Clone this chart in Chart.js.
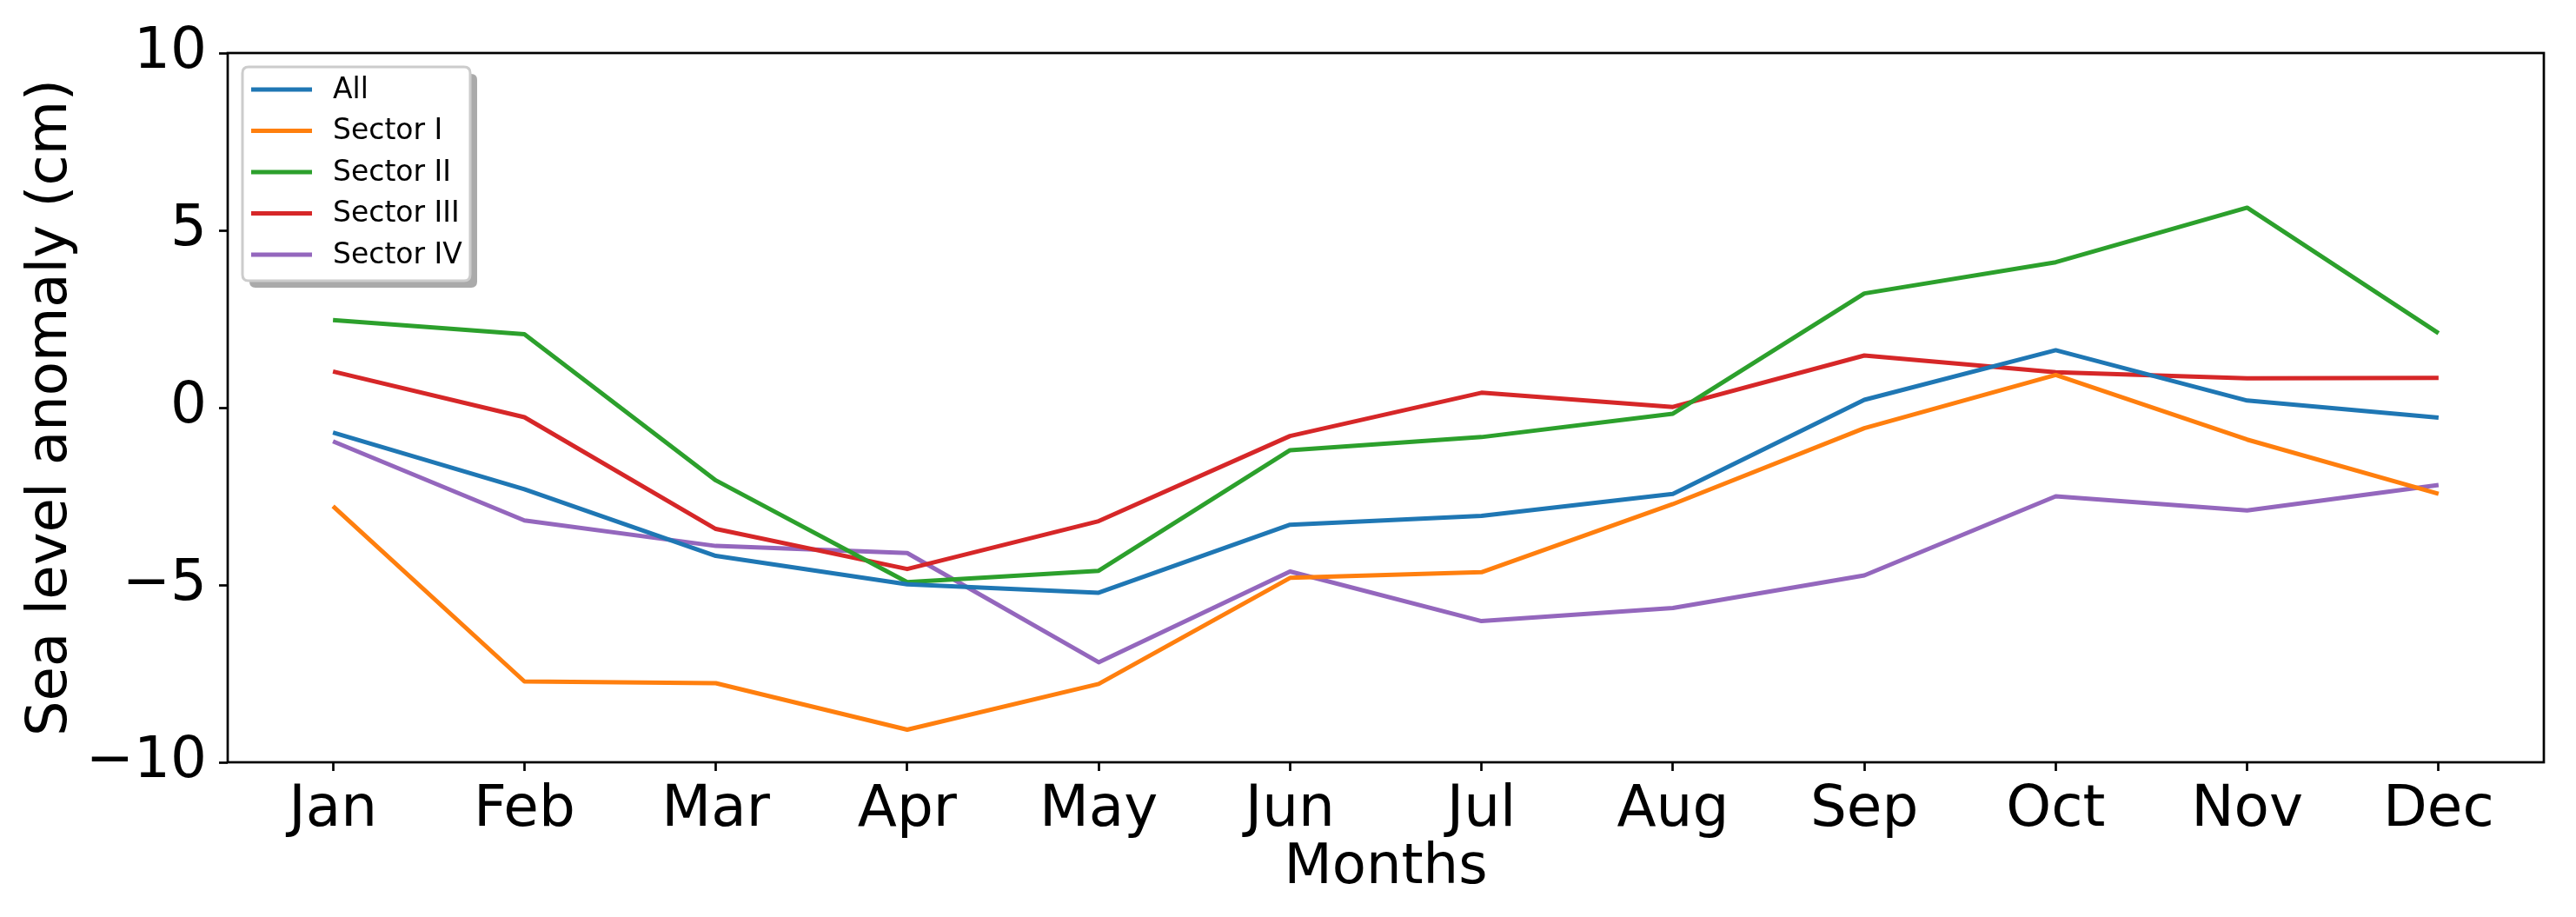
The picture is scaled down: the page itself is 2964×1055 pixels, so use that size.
<!DOCTYPE html>
<html>
<head>
<meta charset="utf-8">
<script src="https://cdn.jsdelivr.net/npm/chart.js@4.4.1/dist/chart.umd.min.js"></script>
<style>
  html, body { margin: 0; padding: 0; background: #ffffff; }
  #wrap { width: 2964px; height: 1055px; }
</style>
</head>
<body>
<div id="wrap"><canvas id="c" width="2964" height="1055"></canvas></div>
<script>
const months = ["Jan","Feb","Mar","Apr","May","Jun","Jul","Aug","Sep","Oct","Nov","Dec"];
const seriesNames = ["All","Sector I","Sector II","Sector III","Sector IV"];
const allValues      = [-0.70, -2.30, -4.18, -4.98, -5.22, -3.30, -3.05, -2.43, 0.22, 1.62, 0.20, -0.28];
const sector1Values  = [-2.78, -7.72, -7.77, -9.08, -7.79, -4.80, -4.64, -2.72, -0.58, 0.92, -0.90, -2.43];
const sector2Values  = [2.47, 2.07, -2.05, -4.92, -4.60, -1.20, -0.83, -0.17, 3.22, 4.10, 5.64, 2.10];
const sector3Values  = [1.02, -0.27, -3.42, -4.55, -3.20, -0.80, 0.42, 0.02, 1.47, 1.00, 0.83, 0.84];
const sector4Values  = [-0.95, -3.18, -3.90, -4.10, -7.18, -4.62, -6.02, -5.65, -4.73, -2.50, -2.90, -2.18];
const yTickValues = [-10, -5, 0, 5, 10];
const xAxisTitle = "Months";
const yAxisTitle = "Sea level anomaly (cm)";

const colors = ["#1f77b4", "#ff7f0e", "#2ca02c", "#d62728", "#9467bd"];
const seriesValues = [allValues, sector1Values, sector2Values, sector3Values, sector4Values];

Chart.defaults.font.family = "'DejaVu Sans', sans-serif";
Chart.defaults.color = "#000000";

const datasets = seriesNames.map((name, k) => ({
  label: name,
  data: seriesValues[k].map((v, i) => ({ x: i, y: v })),
  borderColor: colors[k],
  backgroundColor: colors[k],
  borderWidth: 5,
  pointRadius: 0,
  pointHoverRadius: 0,
  tension: 0,
  fill: false,
  borderJoinStyle: 'round',
  borderCapStyle: 'butt'
}));

const AXIS_W = 2.7;

const framePlugin = {
  id: 'frame',
  afterDatasetsDraw(chart) {
    const ctx = chart.ctx;
    // legend
    const bx = 279, by = 77, bw = 262, bh = 246, r = 7, sh = 8;
    ctx.save();
    function rr(x, y, w, h, rad) {
      ctx.beginPath();
      ctx.moveTo(x + rad, y);
      ctx.lineTo(x + w - rad, y);
      ctx.quadraticCurveTo(x + w, y, x + w, y + rad);
      ctx.lineTo(x + w, y + h - rad);
      ctx.quadraticCurveTo(x + w, y + h, x + w - rad, y + h);
      ctx.lineTo(x + rad, y + h);
      ctx.quadraticCurveTo(x, y + h, x, y + h - rad);
      ctx.lineTo(x, y + rad);
      ctx.quadraticCurveTo(x, y, x + rad, y);
      ctx.closePath();
    }
    rr(bx + sh, by + sh, bw, bh, r);
    ctx.fillStyle = '#aaaaaa';
    ctx.fill();
    rr(bx, by, bw, bh, r);
    ctx.fillStyle = '#ffffff';
    ctx.fill();
    ctx.lineWidth = 3;
    ctx.strokeStyle = '#cccccc';
    ctx.stroke();
    ctx.font = "33px 'DejaVu Sans'";
    ctx.textBaseline = 'middle';
    ctx.textAlign = 'left';
    chart.data.datasets.forEach((ds, k) => {
      const yy = 103 + k * 47.5;
      ctx.beginPath();
      ctx.moveTo(289, yy);
      ctx.lineTo(359, yy);
      ctx.lineWidth = 5;
      ctx.strokeStyle = ds.borderColor;
      ctx.stroke();
      ctx.fillStyle = '#000000';
      ctx.fillText(ds.label, 383, yy + 1);
    });
    ctx.restore();
  },
  afterDraw(chart) {
    const ctx = chart.ctx;
    const a = chart.chartArea;
    ctx.save();
    ctx.strokeStyle = '#000000';
    ctx.lineWidth = AXIS_W;
    ctx.strokeRect(a.left, a.top, a.right - a.left, a.bottom - a.top);
    ctx.restore();
  }
};

new Chart(document.getElementById('c'), {
  type: 'line',
  data: { datasets },
  options: {
    responsive: false,
    devicePixelRatio: 1,
    animation: false,
    events: [],
    layout: { padding: { left: 0, right: 37, top: 61, bottom: 0 } },
    plugins: {
      legend: { display: false },
      tooltip: { enabled: false },
      title: { display: false }
    },
    scales: {
      x: {
        type: 'linear',
        min: -0.55,
        max: 11.55,
        afterBuildTicks(scale) {
          scale.ticks = months.map((m, i) => ({ value: i }));
        },
        afterFit(scale) { scale.height = 178; },
        ticks: {
          autoSkip: false,
          maxRotation: 0,
          minRotation: 0,
          padding: 6,
          font: { size: 66 },
          color: '#000000',
          callback: (v) => months[v]
        },
        grid: {
          display: true,
          drawOnChartArea: false,
          drawTicks: true,
          tickLength: 10,
          tickWidth: AXIS_W,
          tickColor: '#000000'
        },
        border: { display: false },
        title: {
          display: true,
          text: xAxisTitle,
          font: { size: 64 },
          color: '#000000',
          padding: { top: 0, bottom: 17 }
        }
      },
      y: {
        type: 'linear',
        min: -10,
        max: 10,
        afterBuildTicks(scale) {
          scale.ticks = yTickValues.map(v => ({ value: v }));
        },
        afterFit(scale) { scale.width = 262; },
        ticks: {
          padding: 14,
          font: { size: 66 },
          color: '#000000',
          callback: (v) => (v < 0 ? '\u2212' + Math.abs(v) : String(v))
        },
        grid: {
          display: true,
          drawOnChartArea: false,
          drawTicks: true,
          tickLength: 10,
          tickWidth: AXIS_W,
          tickColor: '#000000'
        },
        border: { display: false },
        title: {
          display: true,
          text: yAxisTitle,
          font: { size: 64 },
          color: '#000000',
          padding: { top: 21, bottom: 0 }
        }
      }
    }
  },
  plugins: [framePlugin]
});
</script>
</body>
</html>
